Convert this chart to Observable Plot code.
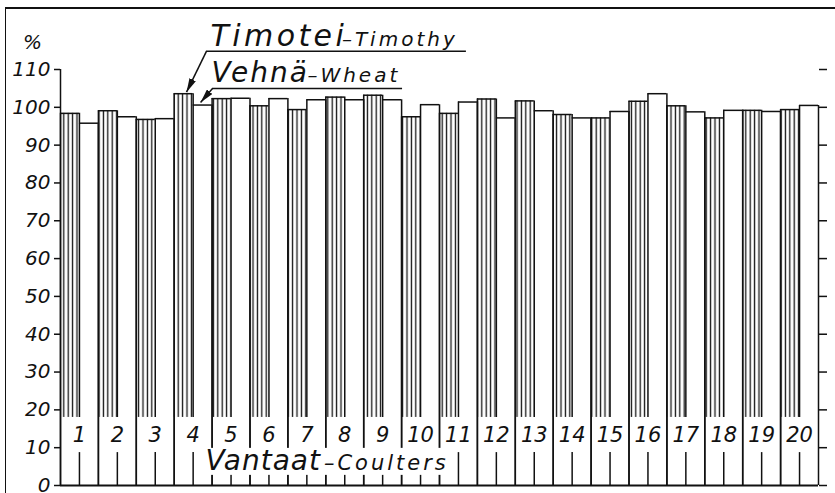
<!DOCTYPE html>
<html><head><meta charset="utf-8">
<script src="https://cdn.jsdelivr.net/npm/d3@7"></script>
<script src="https://cdn.jsdelivr.net/npm/@observablehq/plot@0.6"></script>
<style>
body{margin:0;background:#fff;}
#wrap{position:relative;width:835px;height:493px;overflow:hidden;background:#fff;}
#frame{position:absolute;left:5px;top:7px;width:840px;height:500px;border-top:2px solid #111;border-left:1.5px solid #111;pointer-events:none;}
</style></head><body>
<div id="wrap"><div id="chart"></div><div id="frame"></div></div>
<script>
// Coulter numbers (Vantaat - Coulters)
const coulters = [1,2,3,4,5,6,7,8,9,10,11,12,13,14,15,16,17,18,19,20];
// Timotei - Timothy (hatched bars), %
const timotei = [98.4, 99.1, 96.8, 103.6, 102.3, 100.4, 99.4, 102.7, 103.2, 97.5,
                 98.4, 102.2, 101.7, 98.1, 97.2, 101.6, 100.4, 97.2, 99.2, 99.4];
// Vehnä - Wheat (white bars), %
const vehna   = [95.8, 97.5, 97.0, 100.6, 102.4, 102.3, 102.0, 102.0, 102.0, 100.7,
                 101.4, 97.2, 99.1, 97.2, 98.9, 103.6, 98.8, 99.2, 98.9, 100.5];
// y-axis tick labels
const yTicks = [0,10,20,30,40,50,60,70,80,90,100,110];

const rows = coulters.map((c, i) => ({c, t: timotei[i], w: vehna[i], x0: 2*i, xm: 2*i + 1, x1: 2*i + 2}));

const HATCH_BASE = 18;   // hatching starts above the coulter numbers
const TICK_TOP = 8.7;    // short centre tick below the numbers
const LABEL_Y = 11.6;    // baseline of the coulter numbers
const font = "DejaVu Sans";
const lw = 1.5;

const plot = Plot.plot({
  width: 835,
  height: 493,
  marginLeft: 60,
  marginRight: 17,
  marginTop: 69,
  marginBottom: 8,
  x: {domain: [0, coulters.length * 2], axis: null},
  y: {domain: [yTicks[0], yTicks[yTicks.length - 1]]},
  style: {fontFamily: font, fontStyle: "italic", background: "transparent", overflow: "visible", color: "#111"},
  marks: [
    // hatched Timotei bars
    Plot.rectY(rows, {x1: "x0", x2: "xm", y1: HATCH_BASE, y2: "t", fill: "url(#hatch)", inset: 0}),
    // top edges
    Plot.ruleY(rows, {x1: "x0", x2: "xm", y: "t", stroke: "#111", strokeWidth: lw}),
    Plot.ruleY(rows, {x1: "xm", x2: "x1", y: "w", stroke: "#111", strokeWidth: lw}),
    // outer edges (group boundaries) down to zero
    Plot.ruleX(rows, {x: "x0", y1: 0, y2: "t", stroke: "#111", strokeWidth: lw}),
    Plot.ruleX(rows, {x: "x1", y1: 0, y2: "w", stroke: "#111", strokeWidth: lw}),
    // shared middle edge, interrupted by the number
    Plot.ruleX(rows, {x: "xm", y1: HATCH_BASE, y2: d => Math.max(d.t, d.w), stroke: "#111", strokeWidth: lw}),
    Plot.ruleX(rows, {x: "xm", y1: 0, y2: TICK_TOP, stroke: "#111", strokeWidth: lw}),
    // coulter numbers
    Plot.text(rows, {x: "xm", y: LABEL_Y, text: d => String(d.c), lineAnchor: "bottom", fontSize: 21, fill: "#111", fontWeight: 300}),
    // axes
    Plot.ruleX([0], {y1: yTicks[0], y2: yTicks[yTicks.length - 1], stroke: "#111", strokeWidth: lw}),
    Plot.ruleY([0], {stroke: "#111", strokeWidth: 2}),
    Plot.axisY({ticks: yTicks, tickSize: 6, tickPadding: 4, fontSize: 20, label: null, strokeWidth: lw}),
    Plot.axisY({anchor: "right", ticks: yTicks, tickSize: 8, tickFormat: () => "", label: null, strokeWidth: lw}),
    Plot.text(["%"], {x: 0, y: yTicks[yTicks.length - 1], dx: -28, dy: -27, fontSize: 20, fill: "#111"}),
    // legend annotation
    Plot.text(["Timotei"], {x: 7.92, y: 116.3, lineAnchor: "bottom", textAnchor: "start", fontSize: 30, fill: "#111", className: "lbl-t"}),
    Plot.text(["–Timothy"], {x: 14.85, y: 116.3, lineAnchor: "bottom", textAnchor: "start", fontSize: 20, fill: "#111", className: "lbl-small"}),
    Plot.ruleY([114.8], {x1: 7.70, x2: 21.42, stroke: "#111", strokeWidth: lw}),
    Plot.link([0], {x1: 7.70, y1: 114.8, x2: 6.65, y2: 104.0, stroke: "#111", strokeWidth: lw, className: "ann-arrow"}),
    Plot.text(["Vehnä"], {x: 7.97, y: 106.8, lineAnchor: "bottom", textAnchor: "start", fontSize: 28, fill: "#111", className: "lbl-big"}),
    Plot.text(["–Wheat"], {x: 13.03, y: 106.8, lineAnchor: "bottom", textAnchor: "start", fontSize: 20, fill: "#111", className: "lbl-small"}),
    Plot.ruleY([105.0], {x1: 8.02, x2: 18.05, stroke: "#111", strokeWidth: lw}),
    Plot.link([0], {x1: 8.02, y1: 105.0, x2: 7.39, y2: 101.3, stroke: "#111", strokeWidth: lw, className: "ann-arrow"}),
    // axis title inside the plot
    Plot.text(["Vantaat"], {x: 7.65, y: 4.0, lineAnchor: "bottom", textAnchor: "start", fontSize: 28, fill: "#111", className: "vantaat lbl-v"}),
    Plot.text(["–Coulters"], {x: 13.9, y: 4.0, lineAnchor: "bottom", textAnchor: "start", fontSize: 21, fill: "#111", className: "vantaat lbl-small"})
  ]
});

document.getElementById("chart").appendChild(plot);
const svg = d3.select(plot);
const defs = svg.insert("defs", ":first-child");
const pat = defs.append("pattern").attr("id", "hatch").attr("patternUnits", "userSpaceOnUse")
  .attr("width", 4.4).attr("height", 10);
pat.append("rect").attr("width", 4.4).attr("height", 10).attr("fill", "white");
pat.append("line").attr("x1", 2.2).attr("x2", 2.2).attr("y1", 0).attr("y2", 10)
  .attr("stroke", "#111").attr("stroke-width", 1.3);
defs.append("marker").attr("id", "ah").attr("viewBox", "0 0 14 7").attr("refX", 14).attr("refY", 3.5)
  .attr("markerWidth", 14).attr("markerHeight", 7).attr("markerUnits", "userSpaceOnUse").attr("orient", "auto")
  .append("path").attr("d", "M0,0L14,3.5L0,7Z").attr("fill", "#111");
svg.selectAll(".ann-arrow path").attr("marker-end", "url(#ah)");
svg.selectAll(".lbl-t text").style("letter-spacing", "3.4px").style("font-weight", 300);
svg.selectAll(".lbl-big text").style("letter-spacing", "2px").style("font-weight", 300);
svg.selectAll(".lbl-v text").style("letter-spacing", "1px").style("font-weight", 300);
svg.selectAll(".lbl-small text").style("letter-spacing", "3px").style("font-weight", 300);

// white box behind "Vantaat – Coulters"
const vg = svg.selectAll("g.vantaat").nodes();
if (vg.length) {
  let x0 = Infinity, y0 = Infinity, x1 = -Infinity, y1 = -Infinity;
  vg.forEach(g => { const b = g.getBBox(); x0 = Math.min(x0, b.x); y0 = Math.min(y0, b.y); x1 = Math.max(x1, b.x + b.width); y1 = Math.max(y1, b.y + b.height); });
  const r = document.createElementNS("http://www.w3.org/2000/svg", "rect");
  r.setAttribute("x", x0 - 4); r.setAttribute("y", y0 + 4);
  r.setAttribute("width", x1 - x0 + 8); r.setAttribute("height", y1 - y0 - 6);
  r.setAttribute("fill", "white");
  vg[0].parentNode.insertBefore(r, vg[0]);
}
</script>
</body></html>
